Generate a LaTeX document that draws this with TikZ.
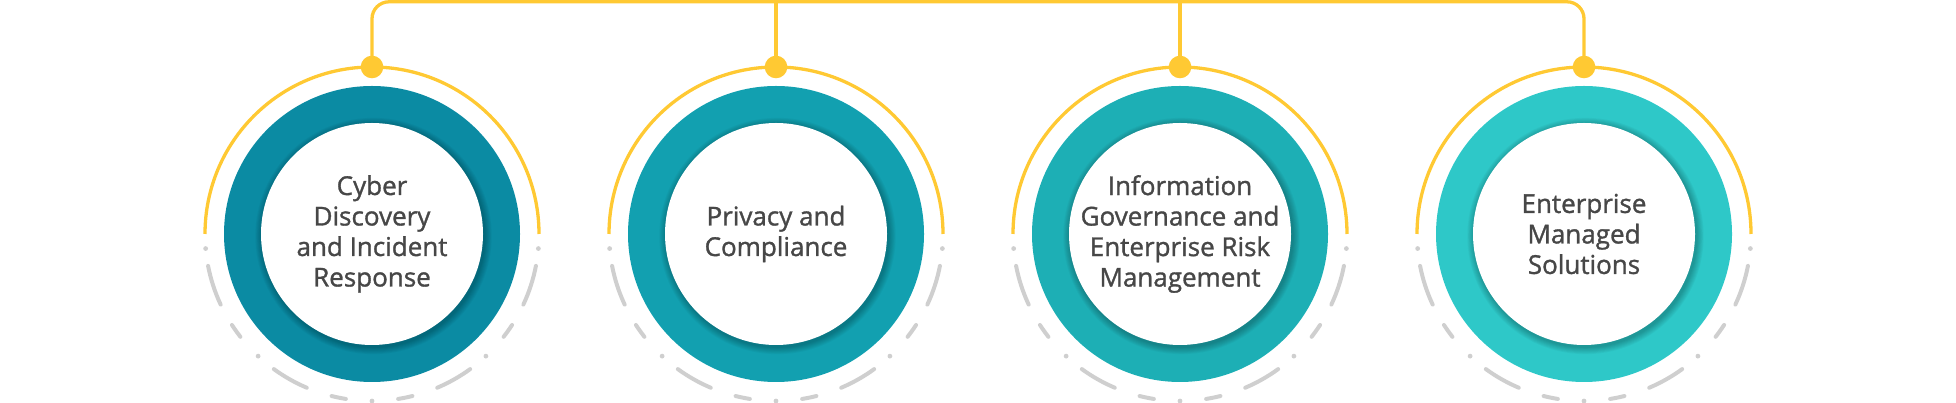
\documentclass[tikz,border=0pt]{standalone}
\usepackage{fontspec}
\setmainfont{Open Sans}
\newfontfamily\labelfont{Open Sans}[RawFeature={embolden=1.2}]
\definecolor{yel}{HTML}{FFC933}
\definecolor{gry}{HTML}{CFCFCF}
\definecolor{txt}{HTML}{474747}
\definecolor{tA}{HTML}{0B8BA3}
\definecolor{tB}{HTML}{12A0B0}
\definecolor{tC}{HTML}{1DAFB5}
\definecolor{tD}{HTML}{2EC8C8}
\tikzset{
  ringdisk/.style={circle, inner sep=0pt, minimum size=296pt},
  coredisk/.style={circle, fill=white, inner sep=0pt, minimum size=222pt},
  labeltext/.style={align=center, text=txt, font=\labelfont\fontsize{26}{30.5}\selectfont},
  yeldot/.style={circle, fill=yel, inner sep=0pt, minimum size=22.6pt},
  yelline/.style={yel, line width=3.3pt},
  grydash/.style={gry, line width=4pt, line cap=round}
}
\begin{document}
\begin{tikzpicture}[x=1pt,y=1pt]
\useasboundingbox (0,0) rectangle (1956,403);
\foreach \i/\x/\col/\txt in {1/372/tA/{Cyber\\Discovery\\and Incident\\Response},
                             2/776/tB/{Privacy and\\Compliance},
                             3/1180/tC/{Information\\Governance and\\Enterprise Risk\\Management},
                             4/1584/tD/{Enterprise\\Managed\\Solutions}}{
  \node[ringdisk, fill=\col] (ring\i) at (\x,169) {};
  \foreach \k in {1,...,8}{
    \fill[black, opacity=0.03] ([shift={(1.5,-2)}]ring\i.center) circle ({111+\k*0.9});
  }
  \node[coredisk] (core\i) at (\x,169) {};
  \node[labeltext] (label\i) at (\x,169) {\txt};
  \draw[yelline] ([shift={(0:167)}]ring\i.center) arc[start angle=0, end angle=180, radius=167];
  \foreach \a/\b in {11/25,33/38,54/67,76/81,99/104,113/126,142/147,155/169}{
    \draw[grydash] ([shift={(180+\a:167)}]ring\i.center) arc[start angle=180+\a, end angle=180+\b, radius=167];
  }
  \foreach \a in {5,47,90,133,175}{
    \fill[gry] ([shift={(180+\a:167)}]ring\i.center) circle (2.4);
  }
  \coordinate (top\i) at (\x,401.2);
}
\draw[yelline, rounded corners=17pt] (ring1.center |- 0,336) -- (top1) -- (top4) -- (ring4.center |- 0,336);
\draw[yelline] (top2) -- (ring2.center |- 0,336);
\draw[yelline] (top3) -- (ring3.center |- 0,336);
\foreach \i/\x in {1/372,2/776,3/1180,4/1584}{
  \node[yeldot] (dot\i) at (\x,336) {};
}
\end{tikzpicture}
\end{document}
